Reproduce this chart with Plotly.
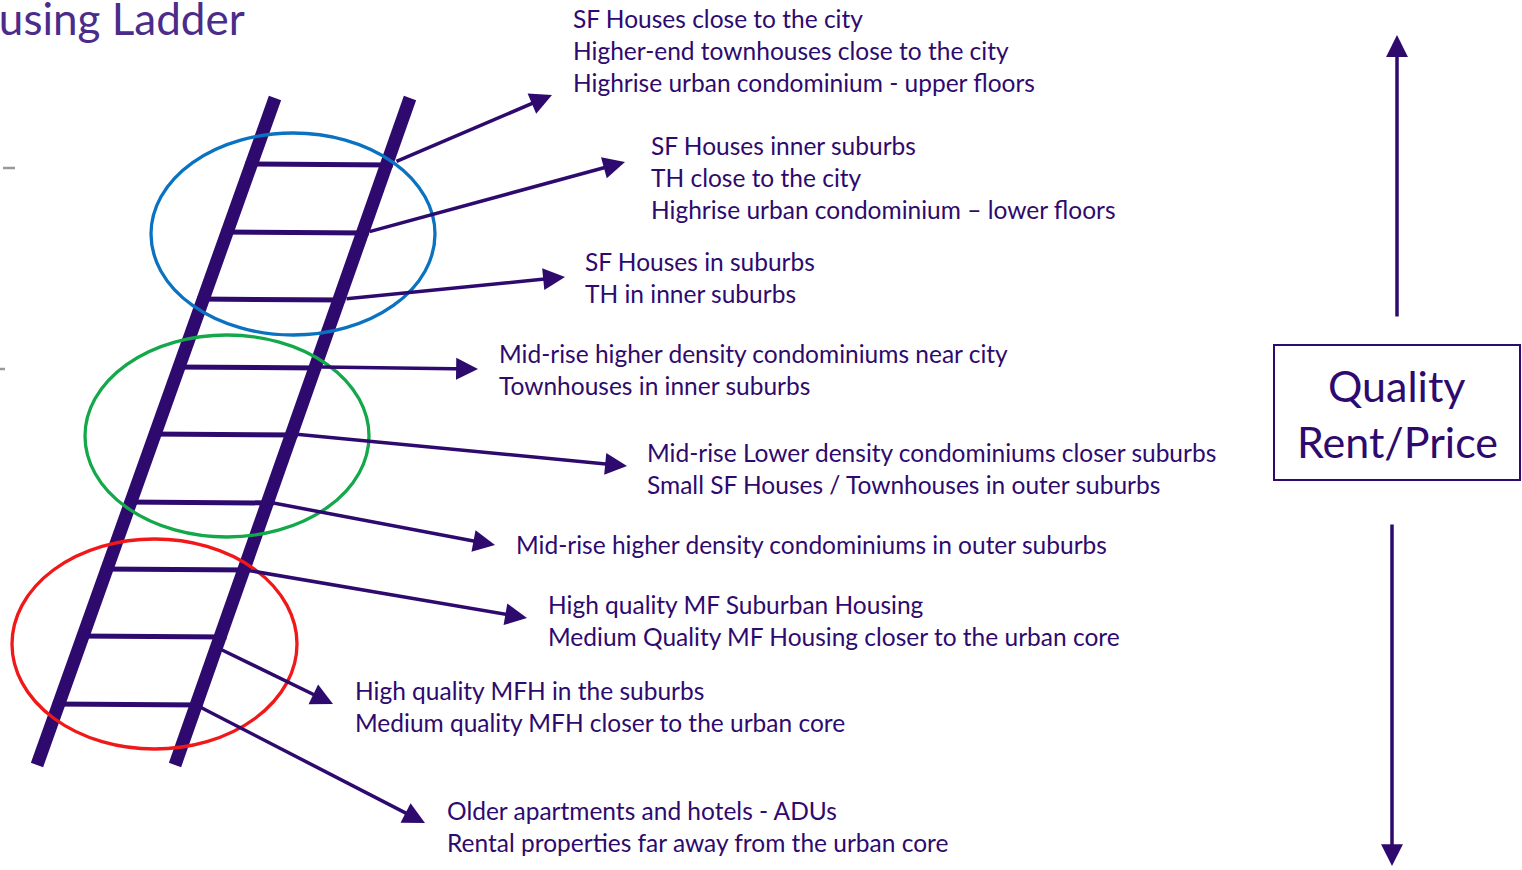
import plotly.graph_objects as go

W, H = 1522, 870
PURPLE = "#2e0a6e"
TITLE_COLOR = "#4b2c8a"
FONT = "Lato"

title_text = "Housing Ladder"

# ladder rails (top point, bottom point)
rail_left = [(275, 98), (37, 765)]
rail_right = [(410, 98), (175, 765)]

# rung heights (top to bottom)
rung_y = [164, 232, 299, 367, 434, 502, 569, 636, 704]

# arrows: start on rung -> head near label
arrow_start = [(395, 162), (368, 232), (345, 299), (320, 367), (295, 434),
               (268, 502), (240, 569), (218, 648), (198, 706)]
arrow_end = [(552, 95), (625, 162), (565, 277), (478, 369), (627, 466),
             (495, 545), (527, 618), (333, 704), (425, 823)]

labels = [
    ["SF Houses close to the city", "Higher-end townhouses close to the city",
     "Highrise urban condominium - upper floors"],
    ["SF Houses inner suburbs", "TH close to the city",
     "Highrise urban condominium \u2013 lower floors"],
    ["SF Houses in suburbs", "TH in inner suburbs"],
    ["Mid-rise higher density condominiums near city", "Townhouses in inner suburbs"],
    ["Mid-rise Lower density condominiums closer suburbs",
     "Small SF Houses / Townhouses in outer suburbs"],
    ["Mid-rise higher density condominiums in outer suburbs"],
    ["High quality MF Suburban Housing",
     "Medium Quality MF Housing closer to the urban core"],
    ["High quality MFH in the suburbs", "Medium quality MFH closer to the urban core"],
    ["Older apartments and hotels - ADUs",
     "Rental properties far away from the urban core"],
]
label_x = [571, 649, 583, 497, 645, 514, 546, 353, 445]
label_y = [18, 145, 261, 353, 452, 544, 604, 690, 810]

# grouping ellipses (x0, y0, x1, y1)
ellipses = [(151, 133, 435, 335), (85, 335, 369, 537), (12, 539, 297, 749)]
ellipse_colors = ["#0a72c0", "#13a84a", "#f01818"]

box_lines = ["Quality", "Rent/Price"]


def rail_x(rail, y):
    (x0, y0), (x1, y1) = rail
    return x0 + (x1 - x0) * (y - y0) / (y1 - y0)


fig = go.Figure()
fig.add_trace(go.Scatter(x=[0, W], y=[0, H], mode="markers",
                         marker=dict(opacity=0), hoverinfo="skip", showlegend=False))

shapes = []
# rungs
for y in rung_y:
    shapes.append(dict(type="line", x0=rail_x(rail_left, y) - 6, y0=y,
                       x1=rail_x(rail_right, y) + 6, y1=y + 1,
                       line=dict(color=PURPLE, width=5)))
# rails
for rail in (rail_left, rail_right):
    shapes.append(dict(type="line", x0=rail[0][0], y0=rail[0][1],
                       x1=rail[1][0], y1=rail[1][1],
                       line=dict(color=PURPLE, width=13)))
# ellipses
for (x0, y0, x1, y1), c in zip(ellipses, ellipse_colors):
    shapes.append(dict(type="circle", x0=x0, y0=y0, x1=x1, y1=y1,
                       line=dict(color=c, width=3.3)))
# box
shapes.append(dict(type="rect", x0=1274, y0=345, x1=1520, y1=480,
                   line=dict(color=PURPLE, width=2)))
# grey dashes on left edge
shapes.append(dict(type="line", x0=3, y0=168, x1=15, y1=168,
                   line=dict(color="#999999", width=2.5)))
shapes.append(dict(type="line", x0=0, y0=369, x1=5, y1=369,
                   line=dict(color="#999999", width=2.5)))

annotations = []
# arrows from rungs
for (sx, sy), (ex, ey) in zip(arrow_start, arrow_end):
    annotations.append(dict(x=ex, y=ey, ax=sx, ay=sy, xref="x", yref="y",
                            axref="x", ayref="y", text="", showarrow=True,
                            arrowhead=2, arrowsize=1.25, arrowwidth=3.5,
                            arrowcolor=PURPLE, standoff=0))
# vertical arrows
annotations.append(dict(x=1397, y=35, ax=1397, ay=318, xref="x", yref="y",
                        axref="x", ayref="y", text="", showarrow=True,
                        arrowhead=2, arrowsize=1.25, arrowwidth=3.5,
                        arrowcolor=PURPLE, standoff=0))
annotations.append(dict(x=1392, y=866, ax=1392, ay=523, xref="x", yref="y",
                        axref="x", ayref="y", text="", showarrow=True,
                        arrowhead=2, arrowsize=1.25, arrowwidth=3.5,
                        arrowcolor=PURPLE, standoff=0))
# labels
for lines, x, y in zip(labels, label_x, label_y):
    for i, t in enumerate(lines):
        annotations.append(dict(x=x, y=y + 32 * i, xref="x", yref="y", text=t,
                                showarrow=False, xanchor="left", yanchor="middle",
                                font=dict(family=FONT, size=24.5, color=PURPLE)))
# box text
for i, t in enumerate(box_lines):
    annotations.append(dict(x=1397, y=385 + 56 * i, xref="x", yref="y", text=t,
                            showarrow=False, xanchor="center", yanchor="middle",
                            font=dict(family=FONT, size=43, color=PURPLE)))
# title (cut off at left edge, as in the original slide)
annotations.append(dict(x=247, y=18, xref="x", yref="y", text=title_text,
                        showarrow=False, xanchor="right", yanchor="middle",
                        font=dict(family=FONT, size=44, color=TITLE_COLOR)))

fig.update_layout(
    width=W, height=H, margin=dict(l=0, r=0, t=0, b=0),
    paper_bgcolor="white", plot_bgcolor="white",
    xaxis=dict(range=[0, W], visible=False, fixedrange=True),
    yaxis=dict(range=[H, 0], visible=False, fixedrange=True),
    shapes=shapes, annotations=annotations, showlegend=False,
)
fig.write_html("out.html", config={"displayModeBar": False},
               post_script="document.body.style.margin='0';document.body.style.overflow='hidden';")
